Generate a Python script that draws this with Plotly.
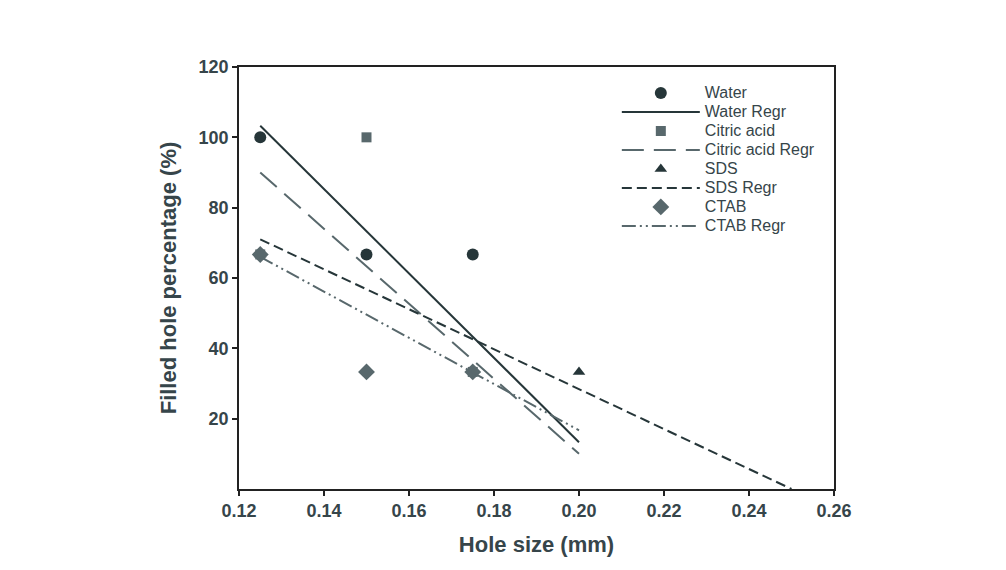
import plotly.graph_objects as go

# Data
water_x = [0.125, 0.15, 0.175]
water_y = [100, 66.7, 66.7]
citric_x = [0.125, 0.15, 0.175]
citric_y = [66.7, 100, 33.3]
sds_x = [0.125, 0.2]
sds_y = [66.7, 33.3]
ctab_x = [0.125, 0.15, 0.175]
ctab_y = [66.7, 33.3, 33.3]

water_regr_x = [0.125, 0.2]
water_regr_y = [103.3, 13.3]
citric_regr_x = [0.125, 0.2]
citric_regr_y = [90.0, 10.0]
sds_regr_x = [0.125, 0.25]
sds_regr_y = [71.0, 0.0]
ctab_regr_x = [0.125, 0.2]
ctab_regr_y = [66.0, 16.7]

x_ticks = [0.12, 0.14, 0.16, 0.18, 0.20, 0.22, 0.24, 0.26]
x_tick_labels = ["0.12", "0.14", "0.16", "0.18", "0.20", "0.22", "0.24", "0.26"]
y_ticks = [20, 40, 60, 80, 100, 120]

dark = "#263639"
gray = "#58686c"
text_col = "#36454a"


def lg(name):
    return '<span style="font-size:16px">' + name + '</span>'


fig = go.Figure()
fig.add_trace(go.Scatter(x=water_x, y=water_y, mode="markers", name=lg("Water"),
                         marker=dict(symbol="circle", size=12, color=dark)))
fig.add_trace(go.Scatter(x=water_regr_x, y=water_regr_y, mode="lines", name=lg("Water Regr"),
                         line=dict(color=dark, width=2, dash="solid")))
fig.add_trace(go.Scatter(x=citric_x, y=citric_y, mode="markers", name=lg("Citric acid"),
                         marker=dict(symbol="square", size=10, color=gray)))
fig.add_trace(go.Scatter(x=citric_regr_x, y=citric_regr_y, mode="lines", name=lg("Citric acid Regr"),
                         line=dict(color=gray, width=2, dash="22px,10px")))
fig.add_trace(go.Scatter(x=sds_x, y=sds_y, mode="markers", name=lg("SDS"),
                         marker=dict(symbol="triangle-up", size=11, color=dark)))
fig.add_trace(go.Scatter(x=sds_regr_x, y=sds_regr_y, mode="lines", name=lg("SDS Regr"),
                         line=dict(color=dark, width=2, dash="10px,5px")))
fig.add_trace(go.Scatter(x=ctab_x, y=ctab_y, mode="markers", name=lg("CTAB"),
                         marker=dict(symbol="diamond", size=13, color=gray)))
fig.add_trace(go.Scatter(x=ctab_regr_x, y=ctab_regr_y, mode="lines", name=lg("CTAB Regr"),
                         line=dict(color=gray, width=2, dash="14px,4px,2px,4px,2px,4px")))

tick_font = dict(family="Liberation Sans, Arial", size=18, color=text_col, weight="bold")
title_font = dict(family="Liberation Sans, Arial", size=22, color=text_col, weight="bold")

fig.update_layout(
    width=1006, height=570,
    paper_bgcolor="white", plot_bgcolor="white",
    margin=dict(l=231, r=180, t=59, b=89),
    font=dict(family="Liberation Sans, Arial", color=text_col),
    showlegend=True,
    legend=dict(x=0.635, y=0.973, xanchor="left", yanchor="top",
                bgcolor="rgba(0,0,0,0)", borderwidth=0,
                font=dict(size=12, color=text_col),
                tracegroupgap=0, itemwidth=78),
    xaxis=dict(range=[0.12, 0.26], tickvals=x_ticks, ticktext=x_tick_labels,
               ticks="outside", ticklen=5, tickwidth=1.5, tickcolor="#222",
               showline=True, linecolor="#222", linewidth=1.5, mirror=True,
               showgrid=False, zeroline=False, tickfont=tick_font,
               title=dict(text="Hole size (mm)", font=title_font, standoff=16)),
    yaxis=dict(range=[0, 120], tickvals=y_ticks,
               ticks="outside", ticklen=5, tickwidth=1.5, tickcolor="#222",
               showline=True, linecolor="#222", linewidth=1.5, mirror=True,
               showgrid=False, zeroline=False, tickfont=tick_font,
               title=dict(text="Filled hole percentage (%)", font=title_font, standoff=16)),
)

fig.write_html("out.html")
